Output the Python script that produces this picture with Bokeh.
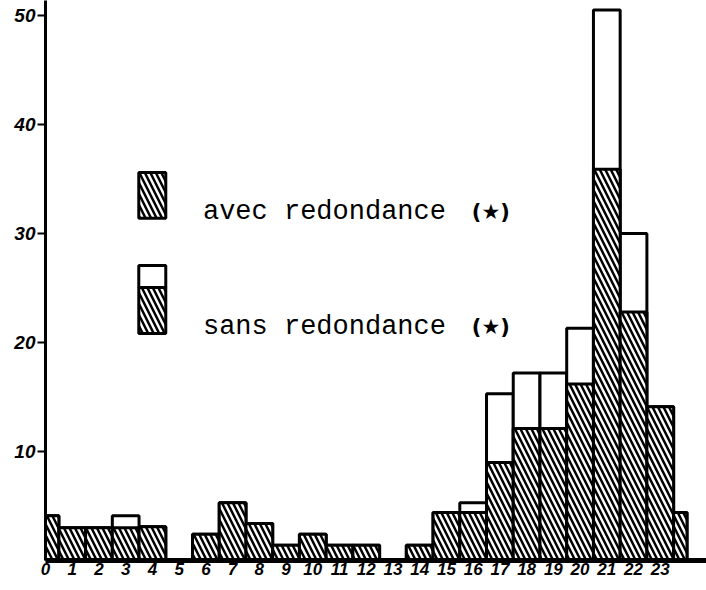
from bokeh.plotting import figure
from bokeh.models import BoxAnnotation, Label, FixedTicker, Range1d, ColumnDataSource
from bokeh.embed import file_html
from bokeh.resources import INLINE

# ---- data ----
hours = list(range(25))          # hour 24 is the wrap-around half of hour 0
avec = [4.1, 3.0, 3.0, 3.0, 3.1, 0, 2.4, 5.3, 3.4, 1.4, 2.4, 1.4, 1.4, 0,
        1.4, 4.4, 4.4, 9.0, 12.1, 12.1, 16.2, 35.9, 22.8, 14.1, 4.4]
sans = [4.1, 3.0, 3.0, 4.1, 3.1, 0, 2.4, 5.3, 3.4, 1.4, 2.4, 1.4, 1.4, 0,
        1.4, 4.4, 5.3, 15.3, 17.2, 17.2, 21.3, 50.5, 30.0, 14.1, 4.4]
x_labels = [str(h) for h in range(24)]
y_ticks = [10, 20, 30, 40, 50]
label_avec = "avec redondance"
label_sans = "sans redondance"
star = "(★)"

period = 24
left = [max(h - 0.5, 0) for h in hours]
right = [min(h + 0.5, period) for h in hours]
src = ColumnDataSource(dict(left=left, right=right, avec=avec, sans=sans))

p = figure(width=706, height=590, x_range=Range1d(0, 24.73), y_range=Range1d(0, 51.38),
           output_backend="svg", toolbar_location=None,
           min_border_left=45, min_border_right=0, min_border_top=0, min_border_bottom=30)
p.xgrid.visible = False
p.ygrid.visible = False
p.outline_line_color = None
p.background_fill_color = "white"

# axes
p.yaxis.ticker = FixedTicker(ticks=y_ticks)
p.yaxis.major_tick_out = 8
p.yaxis.major_tick_in = 0
p.yaxis.major_tick_line_width = 2
p.yaxis.minor_tick_out = 0
p.yaxis.minor_tick_in = 0
p.yaxis.axis_line_width = 3
p.yaxis.major_label_text_font = "Liberation Sans"
p.yaxis.major_label_text_font_style = "bold italic"
p.yaxis.major_label_text_font_size = "19px"
p.yaxis.major_label_text_color = "black"
p.yaxis.major_label_standoff = 2

p.xaxis.ticker = FixedTicker(ticks=list(range(24)))
p.xaxis.major_label_overrides = {i: s for i, s in enumerate(x_labels)}
p.xaxis.major_tick_out = 0
p.xaxis.major_tick_in = 0
p.xaxis.minor_tick_out = 0
p.xaxis.minor_tick_in = 0
p.xaxis.axis_line_width = 5
p.xaxis.major_label_text_font = "Liberation Sans"
p.xaxis.major_label_text_font_style = "bold italic"
p.xaxis.major_label_text_font_size = "17px"
p.xaxis.major_label_text_color = "black"
p.xaxis.major_label_standoff = 2

# bars: total (sans redondance) white, then hatched part (avec redondance)
p.quad(left="left", right="right", bottom=0, top="sans", source=src,
       fill_color="white", line_color="black", line_width=3)
p.quad(left="left", right="right", bottom=0, top="avec", source=src,
       fill_color="white", hatch_pattern="left_diagonal_line", hatch_color="black",
       hatch_scale=11, hatch_weight=2.5, line_color="black", line_width=3)

# legend key (custom)
hatch = dict(hatch_pattern="left_diagonal_line", hatch_color="black", hatch_scale=11,
             hatch_weight=2.5, hatch_alpha=1, fill_color="white", fill_alpha=1,
             line_color="black", line_alpha=1, line_width=3)
plain = dict(fill_color="white", fill_alpha=1, line_color="black", line_alpha=1, line_width=3)
p.add_layout(BoxAnnotation(left=3.49, right=4.50, bottom=31.4, top=35.6, **hatch))
p.add_layout(BoxAnnotation(left=3.49, right=4.50, bottom=25.05, top=27.06, **plain))
p.add_layout(BoxAnnotation(left=3.49, right=4.50, bottom=20.83, top=25.05, **hatch))

txt = dict(text_font="Liberation Mono", text_font_size="27px", text_color="black",
           text_baseline="alphabetic")
p.add_layout(Label(x=5.89, y=32.0, text=label_avec, **txt))
p.add_layout(Label(x=5.89, y=21.4, text=label_sans, **txt))
st = dict(text_font="DejaVu Sans", text_font_size="21px", text_font_style="bold",
          text_color="black", text_baseline="alphabetic")
p.add_layout(Label(x=15.95, y=32.0, text=star, **st))
p.add_layout(Label(x=15.95, y=21.4, text=star, **st))

open("out.html", "w").write(file_html(p, INLINE))
